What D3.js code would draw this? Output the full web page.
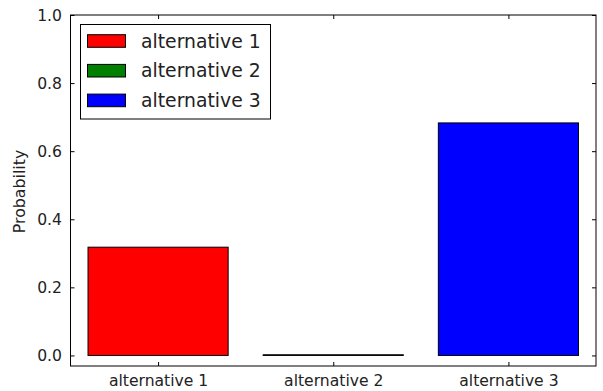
<!DOCTYPE html>
<html><head><meta charset="utf-8">
<script src="https://cdn.jsdelivr.net/npm/d3@7"></script>
<style>body{margin:0;background:#fff}svg{display:block}text{font-family:"DejaVu Sans",sans-serif}</style>
</head><body><svg id="c" width="603" height="391"></svg>
<script>
const categories = ["alternative 1", "alternative 2", "alternative 3"];
const probabilities = [0.318, 0.002, 0.683];
const colors = ["#ff0000", "#008000", "#0000ff"];
const yTicks = [0.0, 0.2, 0.4, 0.6, 0.8, 1.0];

const svg = d3.select("#c");
const L = 70.5, R = 596, T = 15, B = 366;
const x = d3.scaleLinear().domain([-0.5, 2.5]).range([L, R]);
const y = d3.scaleLinear().domain([-0.031, 1.0]).range([B, T]);
const bw = 0.8;

// bars
svg.selectAll("rect.bar").data(categories).enter().append("rect")
  .attr("class","bar")
  .attr("x", (d,i)=>x(i-bw/2))
  .attr("width", (d,i)=>x(i+bw/2)-x(i-bw/2))
  .attr("y", (d,i)=>y(probabilities[i]))
  .attr("height", (d,i)=>y(0)-y(probabilities[i]))
  .attr("fill", (d,i)=>colors[i])
  .attr("stroke","#000").attr("stroke-width",1);

// axes
const tickFmt = d3.format(".1f");
const gL = svg.append("g").attr("transform",`translate(${L},0)`)
  .call(d3.axisLeft(y).tickValues(yTicks).tickFormat(tickFmt).tickSizeInner(-4).tickSizeOuter(0).tickPadding(8.5));
const gR = svg.append("g").attr("transform",`translate(${R},0)`)
  .call(d3.axisRight(y).tickValues(yTicks).tickFormat("").tickSizeInner(-4).tickSizeOuter(0));
const gB = svg.append("g").attr("transform",`translate(0,${B})`)
  .call(d3.axisBottom(x).tickValues([0,1,2]).tickFormat(i=>categories[i]).tickSizeInner(-4).tickSizeOuter(0));
const gT = svg.append("g").attr("transform",`translate(0,${T})`)
  .call(d3.axisTop(x).tickValues([0,1,2]).tickFormat("").tickSizeInner(-4).tickSizeOuter(0));
[gL,gR,gB,gT].forEach(g=>{
  g.select(".domain").remove();
  g.selectAll("line").attr("stroke","#000");
  g.selectAll("text").attr("fill","#222").style("font-size","15.6px").style("font-family","DejaVu Sans");
});
gB.selectAll("text").attr("y",20).attr("dy","0");
svg.append("rect").attr("x",L).attr("y",T).attr("width",R-L).attr("height",B-T)
  .attr("fill","none").attr("stroke","#000").attr("stroke-width",1);

// y label
svg.append("text").attr("transform",`translate(25,${(T+B)/2+1}) rotate(-90)`)
  .attr("text-anchor","middle").attr("fill","#222").style("font-size","15.8px").text("Probability");

// legend
const lg = svg.append("g");
lg.append("rect").attr("x",80.5).attr("y",24.5).attr("width",190).attr("height",94.5)
  .attr("fill","#fff").attr("stroke","#000").attr("stroke-width",1);
categories.forEach((c,i)=>{
  const cy = 41 + i*29.7;
  lg.append("rect").attr("x",87.5).attr("y",cy-6.3).attr("width",38).attr("height",12.6)
    .attr("fill",colors[i]).attr("stroke","#000").attr("stroke-width",1);
  lg.append("text").attr("x",141).attr("y",cy).attr("dy","0.35em").attr("fill","#222")
    .style("font-size","18.8px").text(c);
});
</script></body></html>
